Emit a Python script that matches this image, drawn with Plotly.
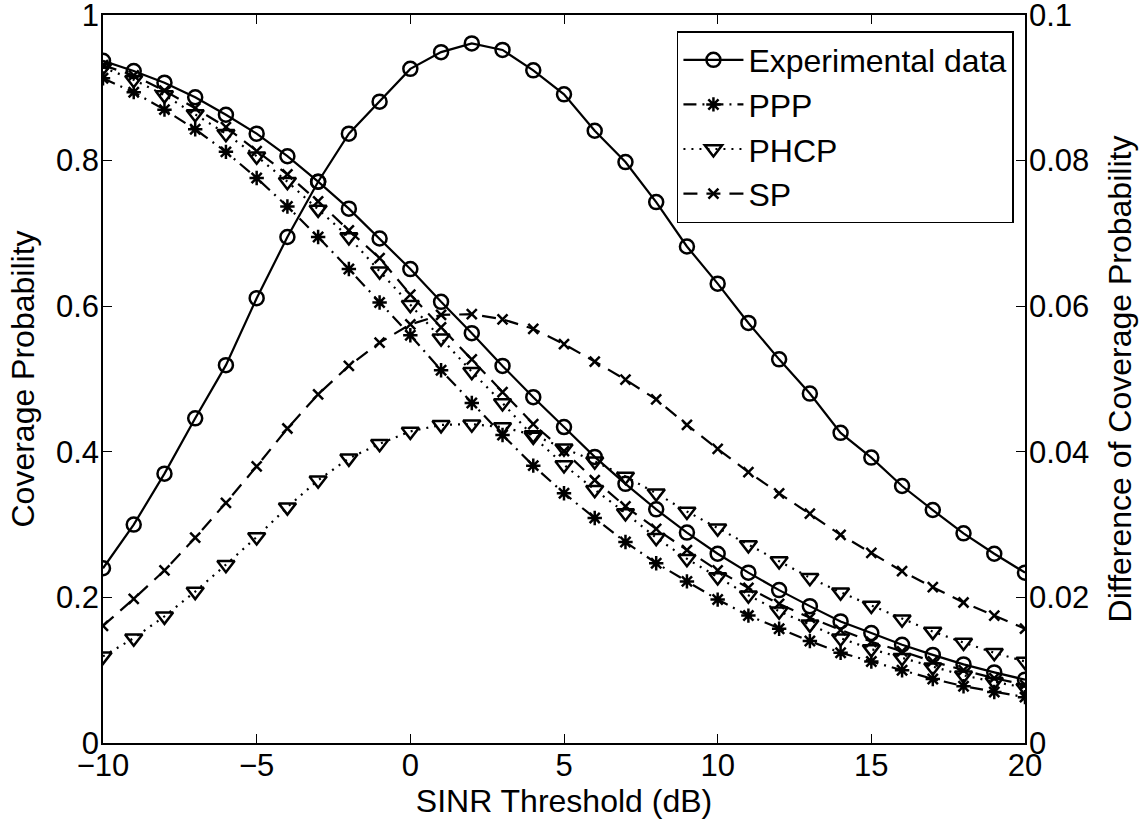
import plotly.graph_objects as go

x_db = list(range(-10, 21))

exp_cov = [0.937, 0.923, 0.907, 0.887, 0.863, 0.837, 0.806, 0.771, 0.734, 0.693, 0.651,
           0.606, 0.563, 0.518, 0.475, 0.434, 0.393, 0.356, 0.321, 0.289, 0.260,
           0.234, 0.210, 0.188, 0.167, 0.151, 0.135, 0.121, 0.108, 0.097, 0.087]
ppp_cov = [0.913, 0.894, 0.870, 0.843, 0.812, 0.776, 0.737, 0.695, 0.651, 0.605, 0.560,
           0.512, 0.467, 0.423, 0.381, 0.343, 0.309, 0.276, 0.247, 0.222, 0.197,
           0.175, 0.157, 0.140, 0.124, 0.112, 0.100, 0.088, 0.078, 0.070, 0.063]
phcp_cov = [0.928, 0.911, 0.890, 0.864, 0.837, 0.806, 0.771, 0.733, 0.695, 0.648, 0.602,
            0.556, 0.510, 0.467, 0.421, 0.382, 0.348, 0.316, 0.282, 0.253, 0.228,
            0.203, 0.181, 0.163, 0.144, 0.129, 0.117, 0.104, 0.093, 0.084, 0.076]
sp_cov = [0.931, 0.917, 0.896, 0.872, 0.846, 0.813, 0.781, 0.744, 0.704, 0.666, 0.616,
          0.571, 0.527, 0.482, 0.438, 0.401, 0.361, 0.325, 0.294, 0.265, 0.237,
          0.213, 0.191, 0.172, 0.155, 0.139, 0.126, 0.112, 0.100, 0.089, 0.080]

exp_diff = [0.0240, 0.0300, 0.0370, 0.0446, 0.0519, 0.0611, 0.0695, 0.0771, 0.0837, 0.0881, 0.0926,
            0.0949, 0.0961, 0.0952, 0.0924, 0.0891, 0.0841, 0.0798, 0.0743, 0.0682, 0.0631,
            0.0577, 0.0527, 0.0480, 0.0426, 0.0392, 0.0353, 0.0320, 0.0288, 0.0260, 0.0234]
sp_diff = [0.0161, 0.0198, 0.0237, 0.0282, 0.0330, 0.0380, 0.0432, 0.0479, 0.0518, 0.0550, 0.0575,
           0.0588, 0.0589, 0.0582, 0.0569, 0.0548, 0.0524, 0.0499, 0.0472, 0.0437, 0.0404,
           0.0372, 0.0343, 0.0315, 0.0286, 0.0261, 0.0236, 0.0214, 0.0193, 0.0175, 0.0157]
phcp_diff = [0.0119, 0.0144, 0.0174, 0.0208, 0.0245, 0.0283, 0.0324, 0.0361, 0.0391, 0.0411, 0.0428,
             0.0437, 0.0438, 0.0434, 0.0423, 0.0405, 0.0387, 0.0366, 0.0343, 0.0318, 0.0295,
             0.0272, 0.0250, 0.0227, 0.0207, 0.0189, 0.0170, 0.0153, 0.0138, 0.0124, 0.0112]

x_ticks = [-10, -5, 0, 5, 10, 15, 20]
y_ticks = [0, 0.2, 0.4, 0.6, 0.8, 1]
y_tick_text = ["0", "0.2", "0.4", "0.6", "0.8", "1"]
y2_ticks = [0, 0.02, 0.04, 0.06, 0.08, 0.1]
y2_tick_text = ["0", "0.02", "0.04", "0.06", "0.08", "0.1"]

FONT = "Liberation Sans, Arial, Helvetica, sans-serif"
BLACK = "#000000"

styles = {
    "Experimental data": dict(dash="solid", symbol="circle-open", size=14),
    "PPP": dict(dash="13px,6px,2px,6px", symbol="asterisk-open", size=12),
    "PHCP": dict(dash="2px,6px", symbol="triangle-down-open", size=15),
    "SP": dict(dash="14px,9px", symbol="x-thin-open", size=10),
}

fig = go.Figure()

def add(name, y, axis, show):
    st = styles[name]
    fig.add_trace(go.Scatter(
        x=x_db, y=y, yaxis=axis, name=name, showlegend=show, legendgroup=name,
        mode="lines+markers",
        line=dict(color=BLACK, width=2.2, dash=st["dash"]),
        marker=dict(symbol=st["symbol"], size=st["size"], color=BLACK,
                    line=dict(color=BLACK, width=2.5)),
    ))

add("Experimental data", exp_cov, "y", True)
add("PPP", ppp_cov, "y", True)
add("PHCP", phcp_cov, "y", True)
add("SP", sp_cov, "y", True)
add("Experimental data", exp_diff, "y2", False)
add("PHCP", phcp_diff, "y2", False)
add("SP", sp_diff, "y2", False)

axis_common = dict(showgrid=False, zeroline=False, showline=True, linecolor=BLACK,
                   linewidth=1.5, ticks="inside", ticklen=9, tickwidth=1.2, tickcolor=BLACK,
                   ticklabeloverflow="allow", automargin=False,
                   tickfont=dict(family=FONT, size=31, color=BLACK))
title_font = dict(family=FONT, size=32, color=BLACK)

fig.update_layout(
    width=1147, height=823,
    margin=dict(l=103, r=122, t=15, b=80, autoexpand=False),
    paper_bgcolor="white", plot_bgcolor="white",
    font=dict(family=FONT, color=BLACK),
    xaxis=dict(range=[-10, 20], tickvals=x_ticks, mirror="ticks", ticklabelstandoff=-6,
               title=dict(text="SINR Threshold (dB)", font=title_font, standoff=0),
               **axis_common),
    yaxis=dict(range=[0, 1], tickvals=y_ticks, ticktext=y_tick_text, ticklabelstandoff=-4,
               title=dict(text="Coverage Probability", font=title_font, standoff=12),
               **axis_common),
    yaxis2=dict(range=[0, 0.1], tickvals=y2_ticks, ticktext=y2_tick_text, overlaying="y",
                side="right", ticklabelstandoff=-4,
                title=dict(text="Difference of Coverage Probability", font=title_font, standoff=20),
                **axis_common),
    legend=dict(x=0.988, y=0.978, xanchor="right", yanchor="top",
                bgcolor="white", bordercolor=BLACK, borderwidth=1.5,
                font=dict(family=FONT, size=32, color=BLACK),
                itemwidth=60, tracegroupgap=0),
)

# remove the browser's default 8px page margin so the figure fills the window exactly
fig.write_html("out.html",
               config={"displayModeBar": False},
               post_script="document.body.style.margin='0';document.body.style.overflow='hidden';")
